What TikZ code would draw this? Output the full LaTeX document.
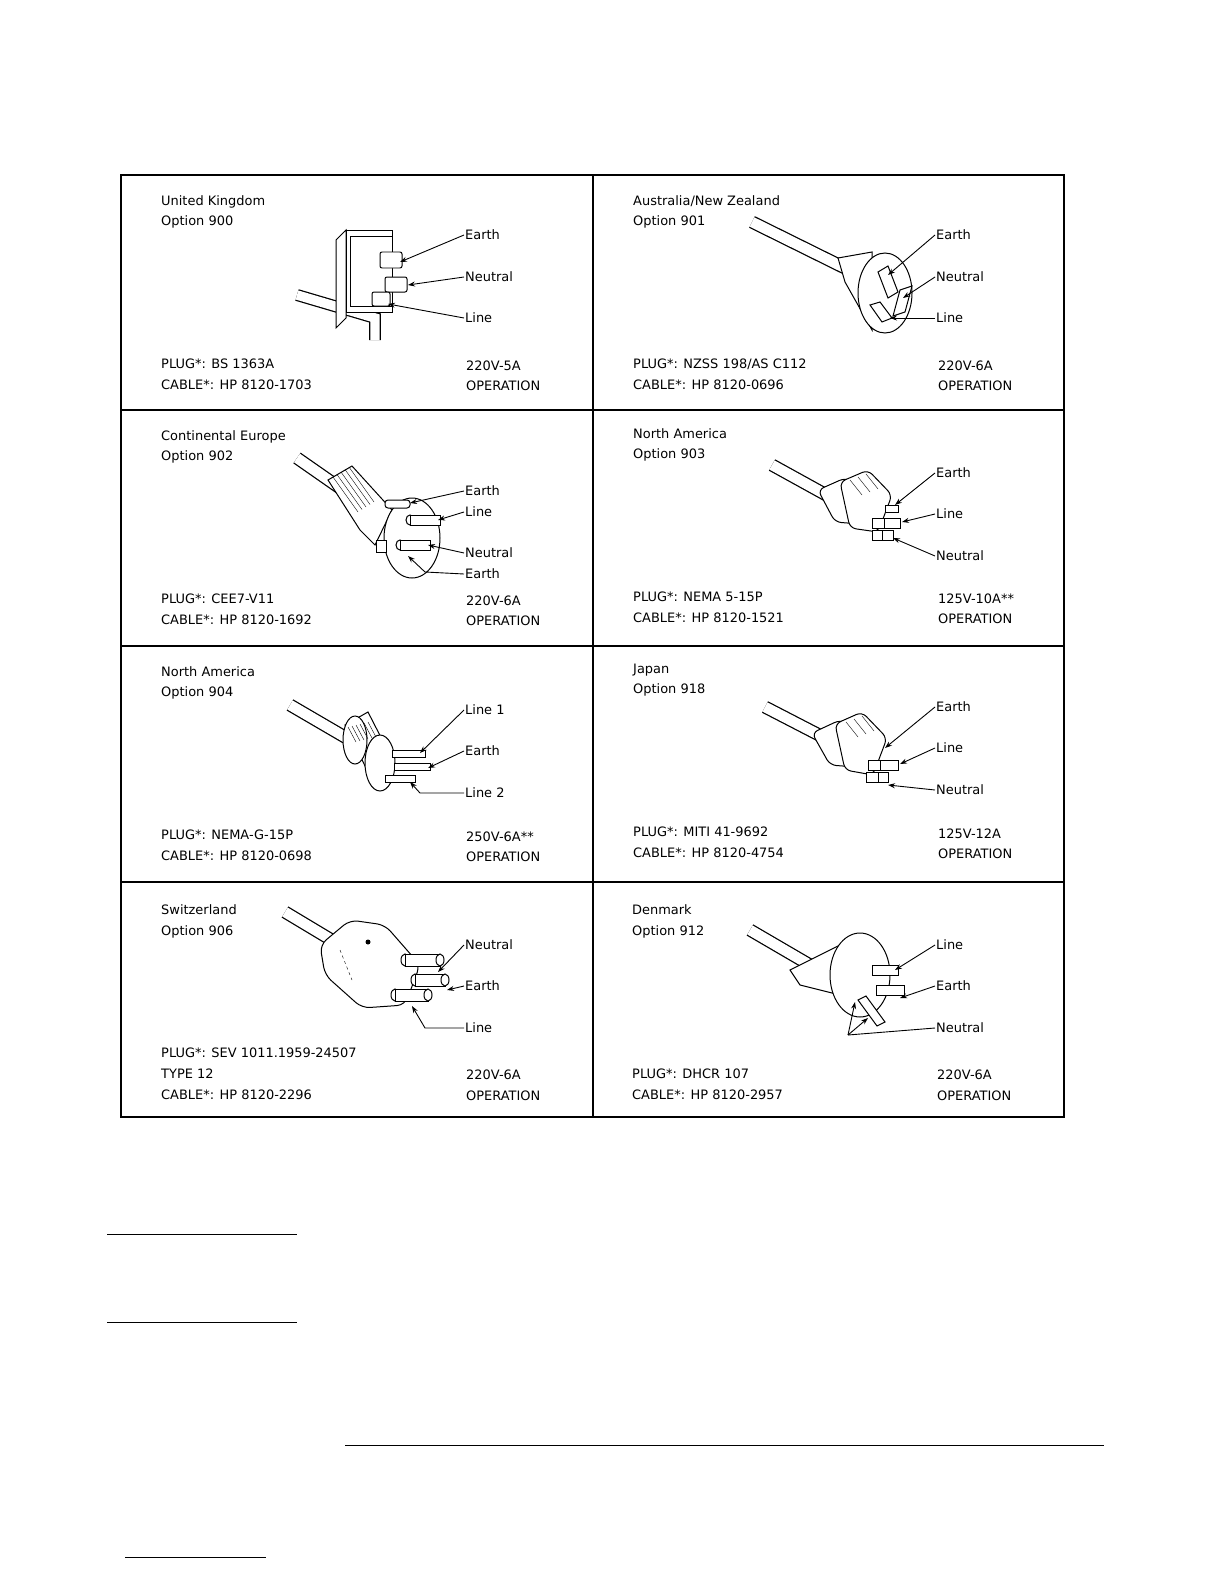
\documentclass[tikz,border=0pt]{standalone}
\usepackage{fontspec}
\setmainfont{DejaVu Sans}
\usetikzlibrary{arrows.meta}
\tikzset{
 txt/.style={anchor=base west,inner sep=0pt,font=\fontsize{13}{15}\selectfont},
 lbl/.style={anchor=west,inner sep=1pt,font=\fontsize{13}{15}\selectfont},
 arr/.style={-{Stealth[length=7pt,width=5pt]},line width=0.9pt},
 body/.style={draw,fill=white,line width=1pt},
 frame/.style={line width=1.2pt}
}
\newcommand{\cordx}[2]{\draw[line width=13pt,line cap=butt] #1--#2; \draw[white,line width=10.5pt,line cap=butt] #1--#2;}
\newcommand{\celltext}[8]{%
 \node[txt] at (#1+40,#2+30) {#3};
 \node[txt] at (#1+40,#2+50) {#4};
 \node[txt] at (#1+40,#2+193) {#5};
 \node[txt] at (#1+40,#2+214) {#6};
 \node[txt] at (#1+345,#2+195) {#7};
 \node[txt] at (#1+345,#2+215) {#8};}
\begin{document}
\begin{tikzpicture}[x=1bp,y=-1bp]
\useasboundingbox (0,0) rectangle (1224,1584);
% frame
\draw[frame] (121,175) rectangle (1064,1117);
\draw[frame] (593,175)--(593,1117);
\foreach \yy in {410,646,882} \draw[frame] (121,\yy)--(1064,\yy);
% bottom lines
\draw[line width=0.8pt] (107,1234)--(297,1234);
\draw[line width=0.8pt] (107,1322)--(297,1322);
\draw[line width=0.8pt] (345,1445)--(1104,1445);
\draw[line width=0.8pt] (125,1557)--(266,1557);
% texts
\celltext{121}{175}{United Kingdom}{Option 900}{PLUG*: BS 1363A}{CABLE*: HP 8120-1703}{220V-5A}{OPERATION}
\celltext{593}{175}{Australia/New Zealand}{Option 901}{PLUG*: NZSS 198/AS C112}{CABLE*: HP 8120-0696}{220V-6A}{OPERATION}
\celltext{121}{410}{Continental Europe}{Option 902}{PLUG*: CEE7-V11}{CABLE*: HP 8120-1692}{220V-6A}{OPERATION}
\celltext{593}{408}{North America}{Option 903}{PLUG*: NEMA 5-15P}{CABLE*: HP 8120-1521}{125V-10A**}{OPERATION}
\celltext{121}{646}{North America}{Option 904}{PLUG*: NEMA-G-15P}{CABLE*: HP 8120-0698}{250V-6A**}{OPERATION}
\celltext{593}{643}{Japan}{Option 918}{PLUG*: MITI 41-9692}{CABLE*: HP 8120-4754}{125V-12A}{OPERATION}
\node[txt] at (161,914) {Switzerland};
\node[txt] at (161,935) {Option 906};
\node[txt] at (161,1057) {PLUG*: SEV 1011.1959-24507};
\node[txt] at (161,1078) {TYPE 12};
\node[txt] at (161,1099) {CABLE*: HP 8120-2296};
\node[txt] at (466,1079) {220V-6A};
\node[txt] at (466,1100) {OPERATION};
\node[txt] at (632,914) {Denmark};
\node[txt] at (632,935) {Option 912};
\node[txt] at (632,1078) {PLUG*: DHCR 107};
\node[txt] at (632,1099) {CABLE*: HP 8120-2957};
\node[txt] at (937,1079) {220V-6A};
\node[txt] at (937,1100) {OPERATION};

% ---------- UK ----------
\draw[line width=12pt] (297,295)--(375,318)--(375,340);
\draw[white,line width=9.5pt] (297,295)--(375,318)--(375,340);
\draw[body] (336,240)--(346,230)--(346,318)--(336,328)--cycle;
\draw[body] (346,230) rectangle (392,312);
\draw[body] (350,236) rectangle (392,306);
\draw[body,rounded corners=2pt] (380,252) rectangle (402,268);
\draw[body,rounded corners=2pt] (385,277) rectangle (407,292);
\draw[body,rounded corners=2pt] (372,292) rectangle (390,306);
\node[lbl] (uk1) at (464,235) {Earth};
\node[lbl] (uk2) at (464,277) {Neutral};
\node[lbl] (uk3) at (464,318) {Line};
\coordinate (uk1t) at (400,262); \coordinate (uk2t) at (408,285); \coordinate (uk3t) at (388,304);
\draw[arr] (uk1.west)--(uk1t); \draw[arr] (uk2.west)--(uk2t); \draw[arr] (uk3.west)--(uk3t);

% ---------- AU ----------
\cordx{(752,222)}{(845,268)}
\draw[body] (838,258)--(872,252)--(872,330)--(845,282)--cycle;
\draw[body] (885,293) ellipse (27 and 40);
\draw[body] (878,272)--(888,266)--(898,292)--(888,298)--cycle;
\draw[body] (900,290)--(912,286)--(905,312)--(893,316)--cycle;
\draw[body] (870,305)--(880,302)--(892,318)--(882,322)--cycle;
\node[lbl] (au1) at (935,235) {Earth};
\node[lbl] (au2) at (935,277) {Neutral};
\node[lbl] (au3) at (935,318) {Line};
\coordinate (au1t) at (888,275); \coordinate (au2t) at (903,298); \coordinate (au3t) at (890,318);
\draw[arr] (au1.west)--(au1t); \draw[arr] (au2.west)--(au2t); \draw[arr] (au3.west)--(au3t);

% ---------- Europe ----------
\cordx{(297,458)}{(340,488)}
\draw[body] (328,480)--(352,466)--(392,510)--(375,545)--(360,530)--cycle;
\foreach \i in {0,...,4} \draw (333+4*\i,477-2.5*\i)--(358+4*\i,512-2.5*\i);
\draw[body] (412,538) ellipse (28 and 40);
\draw[body,rounded corners=3pt] (385,500) rectangle (410,508);
\draw[body] (410,520) ellipse (4 and 5); \draw[body] (410,515) rectangle (440,525);
\draw[body] (400,545) ellipse (4 and 5); \draw[body] (400,540) rectangle (430,550);
\draw[body] (376,540) rectangle (386,552);
\node[lbl] (eu1) at (464,491) {Earth};
\node[lbl] (eu2) at (464,512) {Line};
\node[lbl] (eu3) at (464,553) {Neutral};
\node[lbl] (eu4) at (464,574) {Earth};
\coordinate (eu1t) at (410,503); \coordinate (eu2t) at (438,520);
\coordinate (eu3t) at (428,545); \coordinate (eu4tb) at (425,572); \coordinate (eu4t) at (408,556);
\draw[arr] (eu1.west)--(eu1t); \draw[arr] (eu2.west)--(eu2t); \draw[arr] (eu3.west)--(eu3t);
\draw[arr] (eu4.west)--(eu4tb)--(eu4t);

% ---------- NA 903 ----------
\cordx{(772,465)}{(830,497)}
\draw[body,rounded corners=6pt] (818,490)--(845,478)--(880,490)--(872,525)--(835,522)--cycle;
\draw[body,rounded corners=6pt] (840,482)--(868,470)--(892,495)--(878,532)--(850,528)--cycle;
\draw (850,480)--(862,495) (858,477)--(870,492) (866,474)--(878,489);
\draw[body] (885,505) rectangle (898,512);
\draw[body] (872,518) rectangle (900,528);
\draw[body] (872,530) rectangle (893,540);
\draw (884,518)--(884,528) (882,530)--(882,540);
\node[lbl] (na1) at (935,473) {Earth};
\node[lbl] (na2) at (935,514) {Line};
\node[lbl] (na3) at (935,556) {Neutral};
\coordinate (na1t) at (895,505); \coordinate (na2t) at (902,522); \coordinate (na3t) at (893,538);
\draw[arr] (na1.west)--(na1t); \draw[arr] (na2.west)--(na2t); \draw[arr] (na3.west)--(na3t);

% ---------- NA 904 ----------
\cordx{(290,705)}{(350,740)}
\draw[body] (345,725)--(368,712)--(390,755)--(367,770)--cycle;
\draw[body] (380,763) ellipse (15 and 28);
\draw[body] (355,740) ellipse (12 and 24);
\foreach \i in {0,...,5} \draw (348+4*\i,727-1*\i)--(356+4*\i,742-1*\i);
\draw[body] (392,750) rectangle (425,757);
\draw[body] (394,763) rectangle (430,770);
\draw[body] (385,775) rectangle (415,782);
\node[lbl] (nb1) at (464,710) {Line 1};
\node[lbl] (nb2) at (464,751) {Earth};
\node[lbl] (nb3) at (464,793) {Line 2};
\coordinate (nb1t) at (420,753); \coordinate (nb2t) at (428,768);
\coordinate (nb3b) at (420,793); \coordinate (nb3t) at (410,782);
\draw[arr] (nb1.west)--(nb1t); \draw[arr] (nb2.west)--(nb2t); \draw[arr] (nb3.west)--(nb3b)--(nb3t);

% ---------- Japan ----------
\cordx{(765,707)}{(825,738)}
\draw[body,rounded corners=6pt] (812,733)--(840,720)--(875,732)--(868,768)--(830,765)--cycle;
\draw[body,rounded corners=6pt] (835,724)--(862,712)--(887,738)--(873,775)--(845,770)--cycle;
\draw (846,722)--(858,737) (854,719)--(866,734) (862,716)--(874,731);
\draw[body] (868,760) rectangle (898,770);
\draw[body] (866,772) rectangle (888,782);
\draw (880,760)--(880,770) (878,772)--(878,782);
\node[lbl] (jp1) at (935,707) {Earth};
\node[lbl] (jp2) at (935,748) {Line};
\node[lbl] (jp3) at (935,790) {Neutral};
\coordinate (jp1t) at (885,748); \coordinate (jp2t) at (900,764); \coordinate (jp3t) at (888,785);
\draw[arr] (jp1.west)--(jp1t); \draw[arr] (jp2.west)--(jp2t); \draw[arr] (jp3.west)--(jp3t);

% ---------- Switzerland ----------
\cordx{(285,912)}{(340,945)}
\draw[body,rounded corners=8pt] (320,945)--(350,920)--(385,925)--(420,965)--(405,1005)--(362,1008)--(325,975)--cycle;
\fill (368,942) circle (2.5);
\draw[dashed] (340,950)--(352,980);
\draw[body] (405,960) ellipse (4 and 6); \draw[body] (405,954) rectangle (440,966);
\draw[body] (415,980) ellipse (4 and 6); \draw[body] (415,974) rectangle (445,986);
\draw[body] (395,995) ellipse (4 and 6); \draw[body] (395,989) rectangle (428,1001);
\draw[body] (440,960) ellipse (4 and 6); \draw[body] (445,980) ellipse (4 and 6); \draw[body] (428,995) ellipse (4 and 6);
\node[lbl] (sw1) at (464,945) {Neutral};
\node[lbl] (sw2) at (464,986) {Earth};
\node[lbl] (sw3) at (464,1028) {Line};
\coordinate (sw1t) at (438,972); \coordinate (sw2t) at (447,990);
\coordinate (sw3b) at (425,1028); \coordinate (sw3t) at (412,1006);
\draw[arr] (sw1.west)--(sw1t); \draw[arr] (sw2.west)--(sw2t); \draw[arr] (sw3.west)--(sw3b)--(sw3t);

% ---------- Denmark ----------
\cordx{(750,930)}{(810,965)}
\draw[body] (790,970)--(840,945)--(870,960)--(860,1000)--(800,985)--cycle;
\draw[body] (860,975) ellipse (30 and 42);
\draw[body] (872,965) rectangle (898,975);
\draw[body] (876,985) rectangle (904,995);
\draw[body] (858,1000)--(866,996)--(885,1022)--(877,1026)--cycle;
\node[lbl] (dk1) at (935,945) {Line};
\node[lbl] (dk2) at (935,986) {Earth};
\node[lbl] (dk3) at (935,1028) {Neutral};
\coordinate (dk1t) at (895,970); \coordinate (dk2t) at (900,998);
\coordinate (dk3b) at (848,1035); \coordinate (dk3t) at (855,1002); \coordinate (dk3u) at (868,1018);
\draw[arr] (dk1.west)--(dk1t); \draw[arr] (dk2.west)--(dk2t);
\draw[line width=0.9pt] (dk3.west)--(dk3b);
\draw[arr] (dk3b)--(dk3t); \draw[arr] (dk3b)--(dk3u);
\end{tikzpicture}
\end{document}
